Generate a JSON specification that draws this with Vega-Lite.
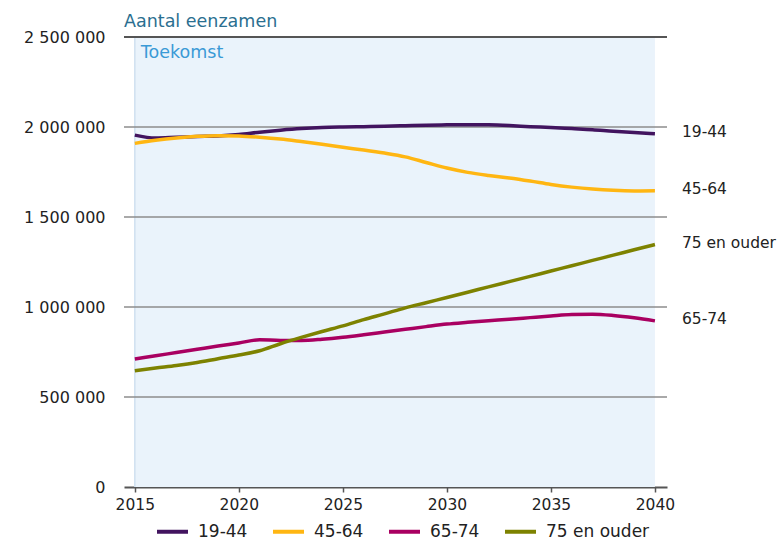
{
  "$schema": "https://vega.github.io/schema/vega-lite/v6.json",
  "width": 543,
  "height": 450,
  "autosize": "none",
  "padding": {"left": 124, "top": 37, "right": 111, "bottom": 53},
  "background": "white",
  "config": {
    "font": "DejaVu Sans",
    "view": {"stroke": null},
    "locale": {"number": {"decimal": ",", "thousands": " ", "grouping": [3], "currency": ["€", ""]}}
  },
  "title": {
    "text": "Aantal eenzamen",
    "anchor": "start",
    "frame": "group",
    "fontSize": 17.5,
    "fontWeight": "normal",
    "color": "#2b6f90",
    "baseline": "alphabetic",
    "offset": -15
  },
  "datasets": {
    "series": [
      {"year": 2015, "group": "19-44", "value": 1955000},
      {"year": 2016, "group": "19-44", "value": 1939000},
      {"year": 2017, "group": "19-44", "value": 1943000},
      {"year": 2018, "group": "19-44", "value": 1947000},
      {"year": 2019, "group": "19-44", "value": 1950000},
      {"year": 2020, "group": "19-44", "value": 1958000},
      {"year": 2021, "group": "19-44", "value": 1971000},
      {"year": 2022, "group": "19-44", "value": 1982000},
      {"year": 2023, "group": "19-44", "value": 1991000},
      {"year": 2024, "group": "19-44", "value": 1997000},
      {"year": 2025, "group": "19-44", "value": 2000000},
      {"year": 2026, "group": "19-44", "value": 2002000},
      {"year": 2027, "group": "19-44", "value": 2004000},
      {"year": 2028, "group": "19-44", "value": 2007000},
      {"year": 2029, "group": "19-44", "value": 2010000},
      {"year": 2030, "group": "19-44", "value": 2012000},
      {"year": 2031, "group": "19-44", "value": 2013000},
      {"year": 2032, "group": "19-44", "value": 2012000},
      {"year": 2033, "group": "19-44", "value": 2008000},
      {"year": 2034, "group": "19-44", "value": 2002000},
      {"year": 2035, "group": "19-44", "value": 1997000},
      {"year": 2036, "group": "19-44", "value": 1991000},
      {"year": 2037, "group": "19-44", "value": 1985000},
      {"year": 2038, "group": "19-44", "value": 1976000},
      {"year": 2039, "group": "19-44", "value": 1969000},
      {"year": 2040, "group": "19-44", "value": 1963000},
      {"year": 2015, "group": "45-64", "value": 1909000},
      {"year": 2016, "group": "45-64", "value": 1926000},
      {"year": 2017, "group": "45-64", "value": 1939000},
      {"year": 2018, "group": "45-64", "value": 1948000},
      {"year": 2019, "group": "45-64", "value": 1952000},
      {"year": 2020, "group": "45-64", "value": 1950000},
      {"year": 2021, "group": "45-64", "value": 1943000},
      {"year": 2022, "group": "45-64", "value": 1933000},
      {"year": 2023, "group": "45-64", "value": 1919000},
      {"year": 2024, "group": "45-64", "value": 1904000},
      {"year": 2025, "group": "45-64", "value": 1887000},
      {"year": 2026, "group": "45-64", "value": 1872000},
      {"year": 2027, "group": "45-64", "value": 1855000},
      {"year": 2028, "group": "45-64", "value": 1834000},
      {"year": 2029, "group": "45-64", "value": 1803000},
      {"year": 2030, "group": "45-64", "value": 1772000},
      {"year": 2031, "group": "45-64", "value": 1748000},
      {"year": 2032, "group": "45-64", "value": 1731000},
      {"year": 2033, "group": "45-64", "value": 1717000},
      {"year": 2034, "group": "45-64", "value": 1700000},
      {"year": 2035, "group": "45-64", "value": 1681000},
      {"year": 2036, "group": "45-64", "value": 1666000},
      {"year": 2037, "group": "45-64", "value": 1655000},
      {"year": 2038, "group": "45-64", "value": 1648000},
      {"year": 2039, "group": "45-64", "value": 1645000},
      {"year": 2040, "group": "45-64", "value": 1646000},
      {"year": 2015, "group": "65-74", "value": 711000},
      {"year": 2016, "group": "65-74", "value": 729000},
      {"year": 2017, "group": "65-74", "value": 747000},
      {"year": 2018, "group": "65-74", "value": 765000},
      {"year": 2019, "group": "65-74", "value": 783000},
      {"year": 2020, "group": "65-74", "value": 800000},
      {"year": 2021, "group": "65-74", "value": 818000},
      {"year": 2022, "group": "65-74", "value": 814000},
      {"year": 2023, "group": "65-74", "value": 814000},
      {"year": 2024, "group": "65-74", "value": 821000},
      {"year": 2025, "group": "65-74", "value": 832000},
      {"year": 2026, "group": "65-74", "value": 846000},
      {"year": 2027, "group": "65-74", "value": 861000},
      {"year": 2028, "group": "65-74", "value": 876000},
      {"year": 2029, "group": "65-74", "value": 891000},
      {"year": 2030, "group": "65-74", "value": 905000},
      {"year": 2031, "group": "65-74", "value": 915000},
      {"year": 2032, "group": "65-74", "value": 924000},
      {"year": 2033, "group": "65-74", "value": 932000},
      {"year": 2034, "group": "65-74", "value": 941000},
      {"year": 2035, "group": "65-74", "value": 950000},
      {"year": 2036, "group": "65-74", "value": 958000},
      {"year": 2037, "group": "65-74", "value": 960000},
      {"year": 2038, "group": "65-74", "value": 953000},
      {"year": 2039, "group": "65-74", "value": 940000},
      {"year": 2040, "group": "65-74", "value": 923000},
      {"year": 2015, "group": "75 en ouder", "value": 646000},
      {"year": 2016, "group": "75 en ouder", "value": 661000},
      {"year": 2017, "group": "75 en ouder", "value": 675000},
      {"year": 2018, "group": "75 en ouder", "value": 692000},
      {"year": 2019, "group": "75 en ouder", "value": 713000},
      {"year": 2020, "group": "75 en ouder", "value": 733000},
      {"year": 2021, "group": "75 en ouder", "value": 757000},
      {"year": 2022, "group": "75 en ouder", "value": 796000},
      {"year": 2023, "group": "75 en ouder", "value": 831000},
      {"year": 2024, "group": "75 en ouder", "value": 864000},
      {"year": 2025, "group": "75 en ouder", "value": 895000},
      {"year": 2026, "group": "75 en ouder", "value": 930000},
      {"year": 2027, "group": "75 en ouder", "value": 962000},
      {"year": 2028, "group": "75 en ouder", "value": 995000},
      {"year": 2029, "group": "75 en ouder", "value": 1024000},
      {"year": 2030, "group": "75 en ouder", "value": 1053000},
      {"year": 2031, "group": "75 en ouder", "value": 1082000},
      {"year": 2032, "group": "75 en ouder", "value": 1112000},
      {"year": 2033, "group": "75 en ouder", "value": 1141000},
      {"year": 2034, "group": "75 en ouder", "value": 1170000},
      {"year": 2035, "group": "75 en ouder", "value": 1200000},
      {"year": 2036, "group": "75 en ouder", "value": 1229000},
      {"year": 2037, "group": "75 en ouder", "value": 1259000},
      {"year": 2038, "group": "75 en ouder", "value": 1288000},
      {"year": 2039, "group": "75 en ouder", "value": 1318000},
      {"year": 2040, "group": "75 en ouder", "value": 1347000}
    ],
    "grid": [
      {"value": 500000}, {"value": 1000000}, {"value": 1500000}, {"value": 2000000}
    ],
    "period": [
      {"start": 2015, "end": 2040, "low": 0, "high": 2500000, "label": "Toekomst"}
    ]
  },
  "layer": [
    {
      "data": {"name": "period"},
      "mark": {"type": "rect", "fill": "#eaf3fb"},
      "encoding": {
        "x": {"field": "start", "type": "quantitative", "scale": {"domain": [2014.48, 2040.58], "nice": false, "zero": false},
          "axis": {"values": [2015, 2020, 2025, 2030, 2035, 2040], "format": "d", "title": null, "grid": false,
            "domainColor": "#555555", "domainWidth": 2, "tickColor": "#555555", "tickWidth": 1.5, "tickSize": 5,
            "labelFontSize": 15.5, "labelColor": "#222222", "labelPadding": 5}},
        "x2": {"field": "end"},
        "y": {"field": "low", "type": "quantitative", "scale": {"domain": [0, 2500000], "nice": false},
          "axis": {"values": [0, 500000, 1000000, 1500000, 2000000, 2500000], "format": ",d", "title": null, "grid": false,
            "domain": false, "ticks": false, "labelFontSize": 16, "labelColor": "#222222", "labelPadding": 19}},
        "y2": {"field": "high"}
      }
    },
    {
      "data": {"name": "period"},
      "mark": {"type": "rule", "stroke": "#cfe0f0", "strokeWidth": 1.5},
      "encoding": {
        "x": {"field": "start", "type": "quantitative"},
        "y": {"field": "low", "type": "quantitative"},
        "y2": {"field": "high"}
      }
    },
    {
      "data": {"name": "grid"},
      "mark": {"type": "rule", "stroke": "#8c8c8c", "strokeWidth": 1.5},
      "encoding": {
        "y": {"field": "value", "type": "quantitative"}
      }
    },
    {
      "data": {"name": "period"},
      "mark": {"type": "rule", "stroke": "#555555", "strokeWidth": 2},
      "encoding": {
        "y": {"field": "high", "type": "quantitative"}
      }
    },
    {
      "data": {"name": "period"},
      "mark": {"type": "text", "align": "left", "baseline": "alphabetic", "dx": 6, "dy": 21, "fontSize": 17.5, "color": "#3a9ad6"},
      "encoding": {
        "x": {"field": "start", "type": "quantitative"},
        "y": {"field": "high", "type": "quantitative"},
        "text": {"field": "label"}
      }
    },
    {
      "data": {"name": "series"},
      "mark": {"type": "line", "strokeWidth": 3.5, "interpolate": "monotone"},
      "encoding": {
        "x": {"field": "year", "type": "quantitative"},
        "y": {"field": "value", "type": "quantitative"},
        "color": {
          "field": "group", "type": "nominal",
          "scale": {"domain": ["19-44", "45-64", "65-74", "75 en ouder"], "range": ["#42145f", "#ffb612", "#a90061", "#7d8200"]},
          "legend": {
            "title": null, "orient": "none", "direction": "horizontal", "legendX": 31, "legendY": 477,
            "symbolType": "stroke", "symbolSize": 961, "symbolStrokeWidth": 4,
            "labelFontSize": 17, "labelColor": "#222222", "labelOffset": 8, "columnPadding": 17
          }
        }
      }
    },
    {
      "data": {"name": "series"},
      "transform": [{"filter": "datum.year == 2040"}],
      "mark": {"type": "text", "align": "left", "baseline": "middle", "dx": 27, "dy": -1.5, "fontSize": 15.5, "color": "#222222"},
      "encoding": {
        "x": {"field": "year", "type": "quantitative"},
        "y": {"field": "value", "type": "quantitative"},
        "text": {"field": "group"}
      }
    }
  ]
}
